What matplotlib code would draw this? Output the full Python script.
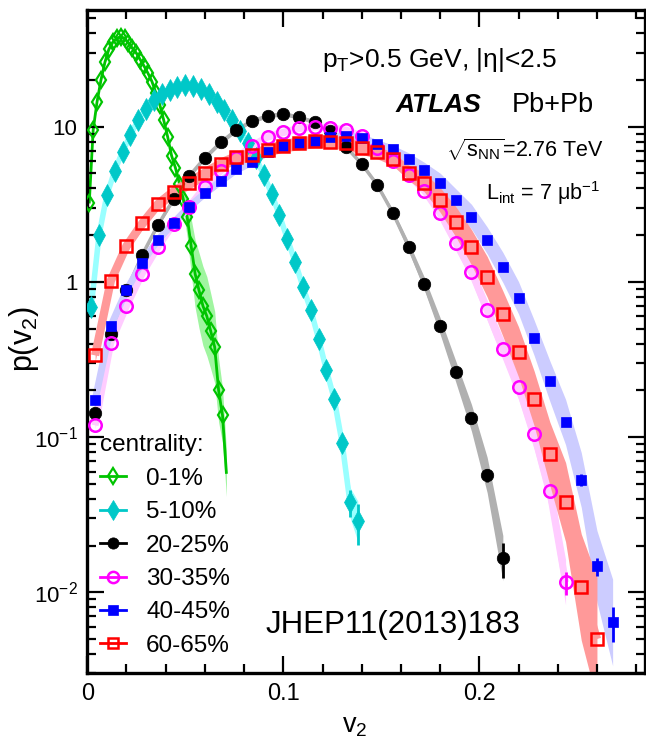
import numpy as np
import matplotlib
matplotlib.use("Agg")
import matplotlib.pyplot as plt
from matplotlib.lines import Line2D
from matplotlib.ticker import MultipleLocator, LogLocator, FixedLocator, FixedFormatter, NullFormatter

plt.rcParams['font.family'] = ['Liberation Sans', 'DejaVu Sans']
plt.rcParams['mathtext.fontset'] = 'custom'
plt.rcParams['mathtext.rm'] = 'Liberation Sans'
plt.rcParams['mathtext.it'] = 'Liberation Sans:italic'
plt.rcParams['mathtext.bf'] = 'Liberation Sans:bold'

# ---- bin centres ----
v2_fine = [0.001, 0.003, 0.005, 0.007, 0.009, 0.011, 0.013, 0.015, 0.017, 0.019,
           0.021, 0.023, 0.025, 0.027, 0.029, 0.031, 0.033, 0.035, 0.037, 0.039,
           0.041, 0.043, 0.045, 0.047, 0.049, 0.051, 0.053, 0.055, 0.057, 0.059,
           0.061, 0.063, 0.065, 0.067, 0.069, 0.071]
v2_mid = [0.002, 0.006, 0.010, 0.014, 0.018, 0.022, 0.026, 0.030, 0.034, 0.038,
          0.042, 0.046, 0.050, 0.054, 0.058, 0.062, 0.066, 0.070, 0.074, 0.078,
          0.082, 0.086, 0.090, 0.094, 0.098, 0.102, 0.106, 0.110, 0.114, 0.118,
          0.122, 0.126, 0.130, 0.134, 0.138]
v2_wide = [0.004, 0.012, 0.020, 0.028, 0.036, 0.044, 0.052, 0.060, 0.068, 0.076,
           0.084, 0.092, 0.100, 0.108, 0.116, 0.124, 0.132, 0.140, 0.148, 0.156,
           0.164, 0.172, 0.180, 0.188, 0.196, 0.204, 0.212, 0.220, 0.228, 0.236,
           0.244, 0.252, 0.260, 0.268]

# ---- p(v2) values ----
c0_1 = [3.2, 9.5, 14.5, 20, 26, 31.5, 35, 37, 38, 37, 34.5, 32, 29.8, 27, 24.5,
        22, 19.5, 16.5, 13.8, 11.0, 8.6, 6.5, 5.4, 4.3, 3.4, 2.6, 1.7, 1.13, 0.88,
        0.7, 0.6, 0.48, 0.38, 0.2, 0.138, 0.058]
c0_1_sys = [0.03]*22 + [0.05, 0.1, 0.2, 0.35, 0.5, 0.65, 0.75, 0.8, 0.8, 0.75,
                       0.7, 0.6, 0.5, 0.4]
c0_1_mark = [True]*35 + [False]

c5_10 = [0.69, 2.0, 3.63, 5.2, 6.9, 8.8, 11.1, 13.0, 14.9, 16.2, 17.2, 18.1, 18.6,
         18.3, 17.4, 16.2, 14.5, 12.8, 11.0, 9.3, 7.8, 6.3, 4.9, 3.7, 2.7, 1.9,
         1.35, 0.93, 0.66, 0.43, 0.27, 0.175, 0.092, 0.038, 0.0287]
c5_10_sys = [0.04]*31 + [0.08, 0.12, 0.25, 0.35]
c5_10_stat = [0.0]*33 + [0.2, 0.3]

c20_25 = [0.142, 0.46, 0.88, 1.49, 2.32, 3.4, 4.8, 6.3, 7.9, 9.5, 10.9, 11.7, 12.1,
          11.5, 10.7, 9.3, 7.4, 5.75, 4.2, 2.76, 1.68, 0.97, 0.52, 0.264, 0.133,
          0.057, 0.0166]
c20_25_sys = [0.03]*19 + [0.05, 0.07, 0.1, 0.13, 0.17, 0.22, 0.3, 0.4]
c20_25_stat = [0.0]*25 + [0.1, 0.25]

c30_35 = [0.119, 0.404, 0.697, 1.13, 1.67, 2.36, 3.05, 4.1, 5.17, 6.3, 7.5, 8.6,
          9.2, 9.77, 10.0, 9.86, 9.5, 8.7, 7.3, 6.0, 4.9, 3.87, 2.76, 1.79, 1.16,
          0.657, 0.372, 0.21, 0.104, 0.0447, 0.0116]
c30_35_sys = [0.05]*20 + [0.07, 0.08, 0.1, 0.12, 0.14, 0.16, 0.18, 0.2, 0.25, 0.3, 0.4]
c30_35_stat = [0.0]*30 + [0.17]

c40_45 = [0.173, 0.52, 0.88, 1.33, 1.86, 2.4, 3.05, 3.72, 4.46, 5.3, 5.95, 6.9, 7.55,
          7.88, 8.1, 8.6, 8.7, 8.47, 7.75, 7.14, 6.16, 5.25, 4.36, 3.37, 2.63, 1.85,
          1.24, 0.79, 0.435, 0.229, 0.125, 0.053, 0.0147, 0.0064]
c40_45_sys = [0.06]*20 + [0.1, 0.12, 0.15, 0.18, 0.2, 0.22, 0.25, 0.27, 0.3, 0.35,
                         0.4, 0.5, 0.7, 0.9]
c40_45_stat = [0.0]*31 + [0.09, 0.13, 0.25]

c60_65 = [0.336, 1.015, 1.70, 2.38, 3.17, 3.81, 4.35, 5.0, 5.74, 6.35, 6.56, 7.06,
          7.55, 7.8, 8.05, 8.0, 7.8, 7.3, 6.82, 6.16, 5.05, 4.36, 3.37, 2.44, 1.67,
          1.08, 0.625, 0.354, 0.177, 0.078, 0.0381, 0.0108, 0.005]
c60_65_sys = [0.1]*20 + [0.12, 0.15, 0.2, 0.25, 0.3, 0.35, 0.4, 0.45, 0.5, 0.6, 0.8,
                        1.2, 1.5]

labels = ["0-1%", "5-10%", "20-25%", "30-35%", "40-45%", "60-65%"]

xticks = [0, 0.1, 0.2]
xtick_labels = ["0", "0.1", "0.2"]
yticks = [0.01, 0.1, 1, 10]
ytick_labels = [r"10$^{\mathregular{-2}}$", r"10$^{\mathregular{-1}}$", "1", "10"]

series = [
    dict(x=v2_fine, y=c0_1, sys=c0_1_sys, stat=None, mark=c0_1_mark, mc='#00c400',
         band='#a0f5a0', line='#00c400', lw=2.0, marker='d', ms=8.5, mfc='none', mew=1.6),
    dict(x=v2_mid, y=c5_10, sys=c5_10_sys, stat=c5_10_stat, mark=None, mc='#00c8c8',
         band='#99ffff', line='#99ffff', lw=4.0, marker='d', ms=11, mfc='#00c8c8', mew=0.5),
    dict(x=v2_wide[:27], y=c20_25, sys=c20_25_sys, stat=c20_25_stat, mark=None, mc='black',
         band='#b0b0b0', line='#b0b0b0', lw=2.5, marker='o', ms=9, mfc='black', mew=0.5),
    dict(x=v2_wide[:31], y=c30_35, sys=c30_35_sys, stat=c30_35_stat, mark=None, mc='#ff00ff',
         band='#ffccff', line='#ffccff', lw=5.0, marker='o', ms=9, mfc='none', mew=1.8),
    dict(x=v2_wide[:34], y=c40_45, sys=c40_45_sys, stat=c40_45_stat, mark=None, mc='#0000ff',
         band='#ccccff', line='#ccccff', lw=5.0, marker='s', ms=7.5, mfc='#0000ff', mew=0.5),
    dict(x=v2_wide[:33], y=c60_65, sys=c60_65_sys, stat=None, mark=None, mc='#ff0000',
         band='#ff9999', line='#ff9999', lw=6.0, marker='s', ms=8.5, mfc='none', mew=1.8),
]

fig = plt.figure(figsize=(6.46, 7.47), dpi=100)
ax = fig.add_axes([0.1351, 0.0984, 0.8633, 0.8876])

for i, s in enumerate(series):
    x = np.array(s['x'])
    y = np.array(s['y'])
    sy = np.array(s['sys'])
    ax.fill_between(x, y / (1 + sy), y * (1 + sy), color=s['band'], lw=0, zorder=1 + i * 0.1)
    ax.plot(x, y, color=s['line'], lw=s['lw'], zorder=1.05 + i * 0.1,
            solid_capstyle='butt')

for i, s in enumerate(series):
    x = np.array(s['x'])
    y = np.array(s['y'])
    if s['stat'] is not None:
        st = np.array(s['stat'])
        m = st > 0
        ax.errorbar(x[m], y[m], yerr=[y[m] * st[m], y[m] * st[m]], fmt='none',
                    ecolor=s['mc'], elinewidth=2, capsize=0, zorder=3 + i * 0.1)
    mk = np.ones(len(x), bool) if s['mark'] is None else np.array(s['mark'])
    ax.plot(x[mk], y[mk], ls='none', marker=s['marker'], ms=s['ms'], mfc=s['mfc'],
            mec=s['mc'], mew=s['mew'], zorder=3.05 + i * 0.1)

ax.set_yscale('log')
ax.set_xlim(0, 0.2845)
ax.set_ylim(0.003, 56)

ax.xaxis.set_major_locator(FixedLocator(xticks))
ax.xaxis.set_major_formatter(FixedFormatter(xtick_labels))
ax.xaxis.set_minor_locator(MultipleLocator(0.02))
ax.yaxis.set_major_locator(FixedLocator(yticks))
ax.yaxis.set_major_formatter(FixedFormatter(ytick_labels))
ax.yaxis.set_minor_locator(LogLocator(base=10, subs=np.arange(2, 10)))
ax.yaxis.set_minor_formatter(NullFormatter())

ax.tick_params(which='both', direction='in', top=True, right=True, labelsize=16,
               width=1.6)
ax.tick_params(axis='x', labelsize=17)
ax.tick_params(which='major', length=12, pad=7)
ax.tick_params(which='minor', length=6.5)
for sp in ax.spines.values():
    sp.set_linewidth(2.4)

ax.set_xlabel(r"v$_\mathregular{2}$", fontsize=19.5)
ax.set_ylabel(r"p(v$_\mathregular{2}$)", fontsize=22)
ax.xaxis.set_label_coords(0.48, -0.06)
ax.yaxis.set_label_coords(-0.083, 0.505)

tr = ax.transAxes
ax.text(0.421, 0.925, r"p$_\mathregular{T}$>0.5 GeV, |η|<2.5", transform=tr,
        fontsize=19, ha='left', va='center')
ax.text(0.552, 0.858, "ATLAS", transform=tr, fontsize=19, fontweight='bold',
        fontstyle='italic', ha='left', va='center')
ax.text(0.762, 0.858, "Pb+Pb", transform=tr, fontsize=19.5, ha='left', va='center')
ax.text(0.644, 0.790, r"$\sqrt{\mathregular{s_{NN}}}$=2.76 TeV", transform=tr,
        fontsize=15.5, ha='left', va='center')
ax.text(0.715, 0.725, r"L$_\mathregular{int}$ = 7 μb$^\mathregular{-1}$", transform=tr,
        fontsize=15.5, ha='left', va='center')
ax.text(0.319, 0.073, "JHEP11(2013)183", transform=tr, fontsize=22.5,
        ha='left', va='center')

handles = []
for s, lab in zip(series, labels):
    handles.append(Line2D([], [], color=s['mc'], lw=2, marker=s['marker'],
                          ms=s['ms'] * 0.9, mfc=s['mfc'], mec=s['mc'], mew=s['mew'],
                          label=lab))
leg = ax.legend(handles=handles, loc='lower left', bbox_to_anchor=(0.022, 0.025),
                frameon=False, fontsize=17.5, title="centrality:", title_fontsize=17.5,
                alignment='left', borderpad=0, borderaxespad=0, handlelength=1.1,
                handletextpad=0.82, labelspacing=0.47)

fig.savefig("out.png", dpi=100)
